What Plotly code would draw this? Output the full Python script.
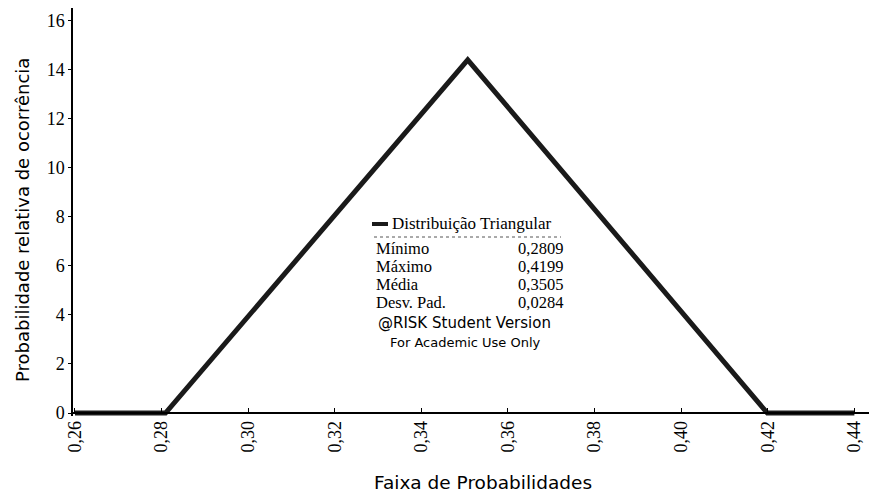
import plotly.graph_objects as go

# Data
x_vals = [0.26, 0.2809, 0.3507, 0.4199, 0.44]
y_vals = [0, 0, 14.39, 0, 0]
x_ticks = [0.26, 0.28, 0.30, 0.32, 0.34, 0.36, 0.38, 0.40, 0.42, 0.44]
x_tick_labels = ["0,26", "0,28", "0,30", "0,32", "0,34", "0,36", "0,38", "0,40", "0,42", "0,44"]
y_ticks = [0, 2, 4, 6, 8, 10, 12, 14, 16]
stat_names = ["Mínimo", "Máximo", "Média", "Desv. Pad."]
stat_values = ["0,2809", "0,4199", "0,3505", "0,0284"]
series_name = "Distribuição Triangular"
x_title = "Faixa de Probabilidades"
y_title = "Probabilidade relativa de ocorrência"

SERIF = "Liberation Serif"
SANS = "DejaVu Sans"

# page offset of the plot div (body margin)
OX, OY = 8, 8

fig = go.Figure()
fig.add_trace(go.Scatter(x=x_vals, y=y_vals, mode="lines",
                         line=dict(color="#1a1a1a", width=5),
                         name=series_name, showlegend=False, hoverinfo="skip"))

L, R, T, B = 65, 0, 0, 91
W = 877
H = 499 - T - B
fig.update_layout(
    width=W, height=499,
    margin=dict(l=L, r=R, t=T, b=B, autoexpand=False),
    paper_bgcolor="white", plot_bgcolor="white",
    showlegend=False,
    xaxis=dict(range=[0.25954, 0.44707], tickvals=x_ticks, ticktext=x_tick_labels,
               tickangle=-90, showgrid=False, zeroline=False, automargin=False,
               showline=True, linecolor="black", linewidth=1.5,
               ticks="inside", ticklen=4, tickcolor="black",
               anchor="free", position=3 / H,
               tickfont=dict(family=SERIF, size=18, color="black")),
    yaxis=dict(range=[-0.12, 16.5], tickvals=y_ticks, showgrid=False, zeroline=False,
               automargin=False,
               showline=True, linecolor="black", linewidth=1.5,
               ticks="outside", ticklen=3, tickcolor="black",
               tickfont=dict(family=SERIF, size=18, color="black")),
)

def px(xp):
    return (xp - OX - L) / (W - L - R)

def py(yp):
    return 1 - (yp - OY - T) / H

# axis titles
fig.add_annotation(xref="paper", yref="paper", x=px(483), y=py(482), text=x_title,
                   showarrow=False, xanchor="center", yanchor="middle",
                   font=dict(family=SANS, size=18.5, color="black"))
fig.add_annotation(xref="paper", yref="paper", x=px(22), y=py(220), text=y_title,
                   textangle=-90, showarrow=False, xanchor="center", yanchor="middle",
                   font=dict(family=SANS, size=18, color="black"))

# legend line symbol
fig.add_shape(type="line", xref="paper", yref="paper",
              x0=px(372), x1=px(388), y0=py(224), y1=py(224),
              line=dict(color="#1a1a1a", width=4))
fig.add_annotation(xref="paper", yref="paper", x=px(390), y=py(223), text=series_name,
                   showarrow=False, xanchor="left", yanchor="middle",
                   font=dict(family=SERIF, size=17, color="black"))
fig.add_shape(type="line", xref="paper", yref="paper",
              x0=px(374), x1=px(561), y0=py(237), y1=py(237),
              line=dict(color="#555555", width=1, dash="dot"))
rows_y = [248, 266, 284, 302]
for name, val, yy in zip(stat_names, stat_values, rows_y):
    fig.add_annotation(xref="paper", yref="paper", x=px(374), y=py(yy), text=name,
                       showarrow=False, xanchor="left", yanchor="middle",
                       font=dict(family=SERIF, size=16.5, color="black"))
    fig.add_annotation(xref="paper", yref="paper", x=px(565), y=py(yy), text=val,
                       showarrow=False, xanchor="right", yanchor="middle",
                       font=dict(family=SERIF, size=16.5, color="black"))
fig.add_annotation(xref="paper", yref="paper", x=px(464), y=py(323), text="@RISK Student Version",
                   showarrow=False, xanchor="center", yanchor="middle",
                   font=dict(family=SANS, size=15, color="black"))
fig.add_annotation(xref="paper", yref="paper", x=px(465), y=py(342), text="For Academic Use Only",
                   showarrow=False, xanchor="center", yanchor="middle",
                   font=dict(family=SANS, size=13, color="black"))

fig.write_html("out.html")
